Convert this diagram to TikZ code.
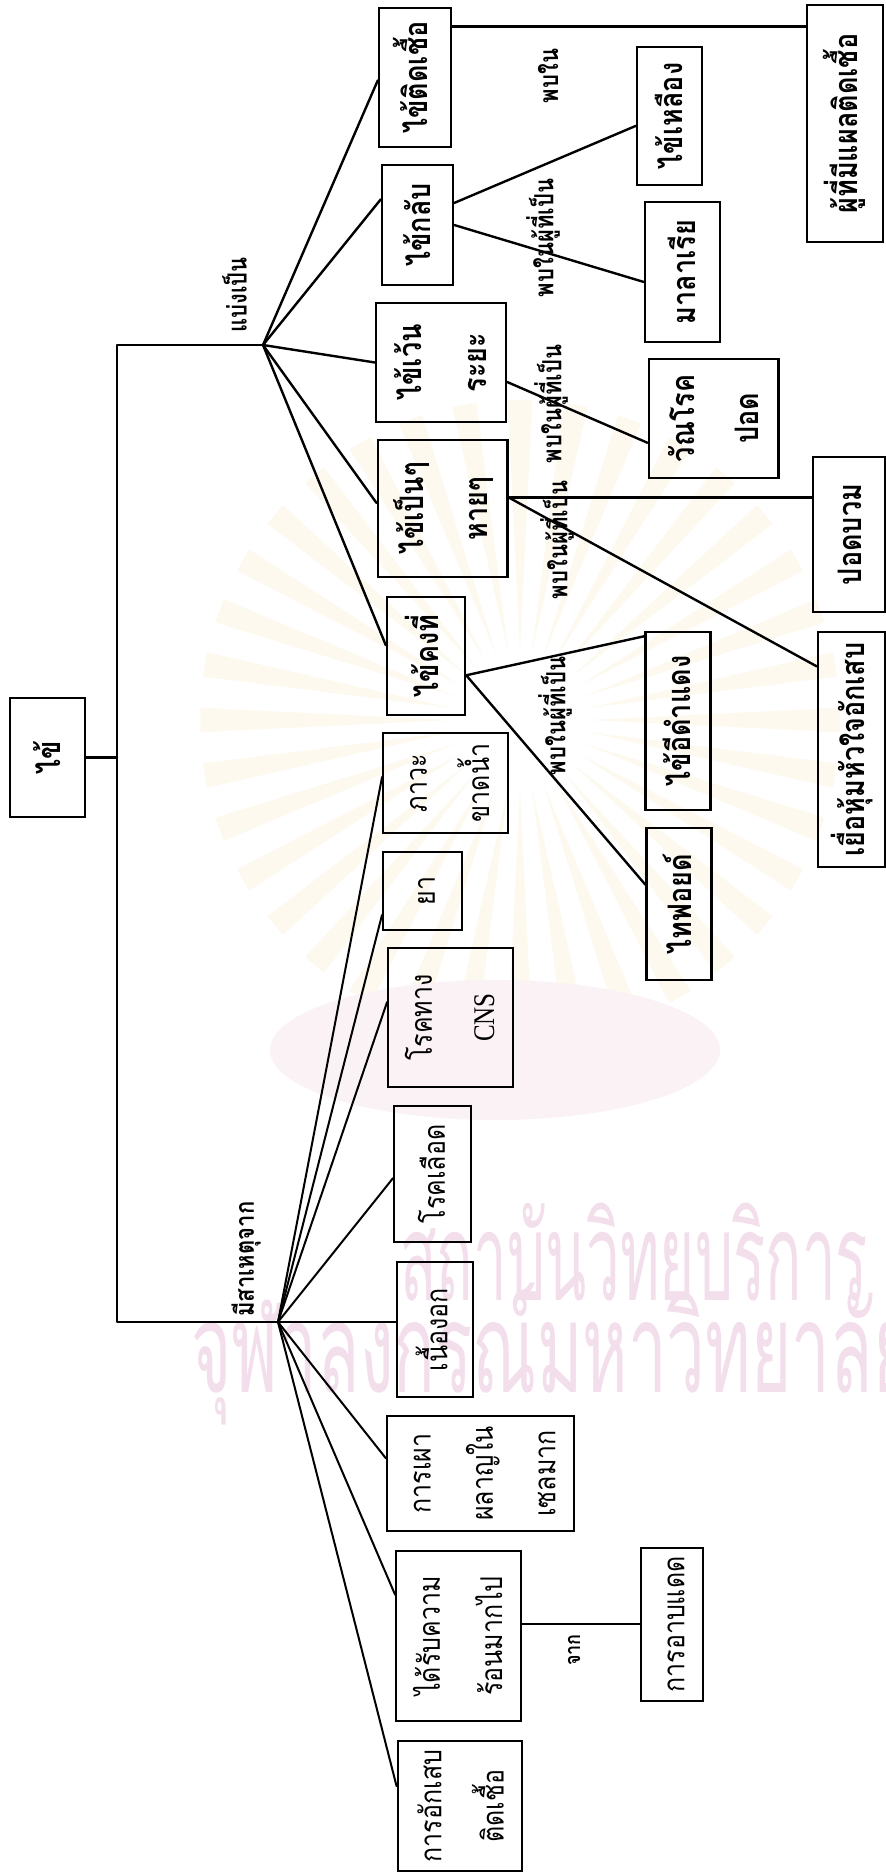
\documentclass[tikz,border=0pt]{standalone}
\usepackage{fontspec}
\usepackage{graphicx}
\usetikzlibrary{calc}
\newfontfamily\thai[Script=Thai]{Loma}
\newfontfamily\latinserif{Liberation Serif}
% text set sideways, reading upwards; lines stack from left to right
\newcommand{\vt}[1]{\rotatebox{90}{\scalebox{1}[1.2]{\begin{tabular}{@{}c@{}}#1\end{tabular}}}}
\newcommand{\rt}[1]{\rotatebox{90}{\scalebox{1}[1.2]{#1}}}
\definecolor{rayc}{RGB}{253,249,238}
\definecolor{ribbonc}{RGB}{251,242,246}
\definecolor{wmpink}{RGB}{243,222,236}
\tikzset{
  box/.style={draw, line width=2.4pt, inner sep=0pt, rectangle},
  lbox/.style={draw, line width=2pt, inner sep=0pt, rectangle},
  boldtxt/.style={font=\thai\bfseries\fontsize{27}{54}\selectfont},
  lighttxt/.style={font=\thai\fontsize{25}{52}\selectfont},
  lbl/.style={inner sep=0pt, font=\thai\bfseries\fontsize{22}{26}\selectfont},
  link/.style={line width=2.4pt, line cap=round, line join=round},
  thinlink/.style={line width=2pt, line cap=round},
  wmtext/.style={inner sep=0pt, text=wmpink, font=\thai\fontsize{64}{70}\selectfont},
}
\begin{document}
\begin{tikzpicture}[x=1pt,y=-1pt]
\useasboundingbox (0,0) rectangle (886,1874);
\fill[white] (0,0) rectangle (886,1874);

% faint emblem behind the chart
\coordinate (EC) at (520,720);
\foreach \a in {0,10,...,350}
  \fill[rayc] ($(EC)+(\a:70)$) -- ($(EC)+(\a-2.2:320)$) -- ($(EC)+(\a+2.2:320)$) -- cycle;
\fill[ribbonc] (495,1050) ellipse [x radius=225, y radius=70];

% watermark lines
\node[wmtext, anchor=base west] (wm1) at (400,1300) {\scalebox{0.94}[1.9]{สถาบันวิทยบริการ}};
\node[wmtext, anchor=base west] (wm2) at (191,1392) {\scalebox{1.08}[1.95]{จุฬาลงกรณ์มหาวิทยาลัย}};

% root and bracket
\node[box, boldtxt, minimum width=75pt, minimum height=119pt] (R) at (47.5,757.5) {\vt{ไข้}};
\coordinate (F1) at (263,345);
\coordinate (BT) at (117,345);
\coordinate (BB) at (117,1322);
\coordinate (F2) at (278,1322);

% kinds of fever
\node[box, boldtxt, minimum width=72pt, minimum height=139pt] (T1) at (415,77.5) {\vt{ไข้ติดเชื้อ}};
\node[box, boldtxt, minimum width=71pt, minimum height=120pt] (T2) at (417.5,225) {\vt{ไข้กลับ}};
\node[box, boldtxt, minimum width=118pt, minimum height=119pt] (T3) at (441,362.5) {\vt{ไข้เว้น\\ระยะ}};
\node[box, boldtxt, minimum width=119pt, minimum height=137pt] (T4) at (442.5,508.5) {\vt{ไข้เป็นๆ\\หายๆ}};
\node[box, boldtxt, minimum width=78pt, minimum height=118pt] (T5) at (426,656) {\vt{ไข้คงที่}};

% diseases found with each kind
\node[box, boldtxt, minimum width=76pt, minimum height=237pt] (C1) at (845,123.5) {\vt{ผู้ที่มีแผลติดเชื้อ}};
\node[box, boldtxt, minimum width=59pt, minimum height=138pt] (C2a) at (669.5,116) {\vt{ไข้เหลือง}};
\node[box, boldtxt, minimum width=75pt, minimum height=140pt] (C2b) at (682.5,272) {\vt{มาลาเรีย}};
\node[box, boldtxt, minimum width=123pt, minimum height=119pt] (C3) at (713.5,418.5) {\vt{วัณโรค\\ปอด}};
\node[box, boldtxt, minimum width=72pt, minimum height=155pt] (C4a) at (849,534.5) {\vt{ปอดบวม}};
\node[box, boldtxt, minimum width=67pt, minimum height=235pt] (C4b) at (851.5,749.5) {\vt{เยื่อหุ้มหัวใจอักเสบ}};
\node[box, boldtxt, minimum width=58pt, minimum height=178pt] (C5a) at (678,721) {\vt{ไข้อีดำแดง}};
\node[box, boldtxt, minimum width=58pt, minimum height=152pt] (C5b) at (679,904) {\vt{ไทฟอยด์}};

% causes
\node[lbox, lighttxt, minimum width=115pt, minimum height=100pt] (B1) at (445.5,783) {\vt{ภาวะ\\ขาดน้ำ}};
\node[lbox, lighttxt, minimum width=79pt, minimum height=78pt] (B2) at (422.5,891) {\vt{ยา}};
\node[lbox, lighttxt, minimum width=115pt, minimum height=139pt] (B3) at (450.5,1017.5) {\vt{โรคทาง\\{\latinserif CNS}}};
\node[lbox, lighttxt, minimum width=77pt, minimum height=136pt] (B4) at (432.5,1174) {\vt{โรคเลือด}};
\node[lbox, lighttxt, minimum width=76pt, minimum height=135pt] (B5) at (435,1329.5) {\vt{เนื้องอก}};
\node[lbox, lighttxt, minimum width=165pt, minimum height=115pt] (B6) at (480.5,1473.5) {\vt{การเผา\\ผลาญใน\\เซลมาก}};
\node[lbox, lighttxt, minimum width=117pt, minimum height=170pt] (B7) at (458.5,1636) {\vt{ได้รับความ\\ร้อนมากไป}};
\node[lbox, lighttxt, minimum width=116pt, minimum height=130pt] (B8) at (460,1806) {\vt{การอักเสบ\\ติดเชื้อ}};
\node[lbox, lighttxt, minimum width=60pt, minimum height=153pt] (B9) at (672,1624.5) {\vt{การอาบแดด}};

% labels
\node[lbl, anchor=south east] (lbA) at (247,333) {\rt{แบ่งเป็น}};
\node[lbl, anchor=south east] (lbB) at (261,1317) {\rt{มีสาเหตุจาก}};
\node[lbl] (l1) at (548,76) {\rt{พบใน}};
\node[lbl] (l2) at (543,238) {\rt{พบในผู้ที่เป็น}};
\node[lbl] (l3) at (551,404) {\rt{พบในผู้ที่เป็น}};
\node[lbl] (l4) at (557,540) {\rt{พบในผู้ที่เป็น}};
\node[lbl] (l5) at (555,716) {\rt{พบในผู้ที่เป็น}};
\node[lbl, font=\thai\bfseries\fontsize{18}{22}\selectfont] (l6) at (574,1650) {\rt{จาก}};

% bracket from the root
\draw[link] (F1) -- (BT) -- (BB) -- (F2) -- (F2 -| B5.west);
\draw[link] (R.east) -- (R.east -| BT);

% fan to the kinds of fever
\draw[link] (F1) -- ($(T1.north west)!0.52!(T1.south west)$);
\draw[link] (F1) -- ($(T2.north west)!0.29!(T2.south west)$);
\draw[link] (F1) -- ($(T3.north west)!0.50!(T3.south west)$);
\draw[link] (F1) -- ($(T4.north west)!0.46!(T4.south west)$);
\draw[link] (F1) -- ($(T5.north west)!0.41!(T5.south west)$);

% kinds of fever to diseases
\coordinate (t1r) at ($(T1.north east)!0.14!(T1.south east)$);
\draw[link] (t1r) -- (t1r -| C1.west);
\draw[link] ($(T2.north east)!0.32!(T2.south east)$) -- ($(C2a.north west)!0.57!(C2a.south west)$);
\draw[link] ($(T2.north east)!0.50!(T2.south east)$) -- ($(C2b.north west)!0.57!(C2b.south west)$);
\draw[link] ($(T3.north east)!0.66!(T3.south east)$) -- ($(C3.north west)!0.70!(C3.south west)$);
\coordinate (t4r) at ($(T4.north east)!0.42!(T4.south east)$);
\draw[link] (t4r) -- (t4r -| C4a.west);
\draw[link] (t4r) -- ($(C4b.north west)!0.15!(C4b.south west)$);
\coordinate (t5r) at ($(T5.north east)!0.66!(T5.south east)$);
\draw[link] (t5r) -- ($(C5a.north west)!0.03!(C5a.south west)$);
\draw[link] (t5r) -- ($(C5b.north west)!0.375!(C5b.south west)$);

% fan to the causes
\draw[thinlink] (F2) -- ($(B1.north west)!0.44!(B1.south west)$);
\draw[thinlink] (F2) -- ($(B2.north west)!0.80!(B2.south west)$);
\draw[thinlink] (F2) -- ($(B3.north west)!0.39!(B3.south west)$);
\draw[thinlink] (F2) -- ($(B4.north west)!0.53!(B4.south west)$);
\draw[thinlink] (F2) -- ($(B6.north west)!0.37!(B6.south west)$);
\draw[thinlink] (F2) -- ($(B7.north west)!0.26!(B7.south west)$);
\draw[thinlink] (F2) -- ($(B8.north west)!0.35!(B8.south west)$);
\coordinate (b7r) at ($(B7.north east)!0.43!(B7.south east)$);
\draw[thinlink] (b7r) -- (b7r -| B9.west);
\end{tikzpicture}
\end{document}
